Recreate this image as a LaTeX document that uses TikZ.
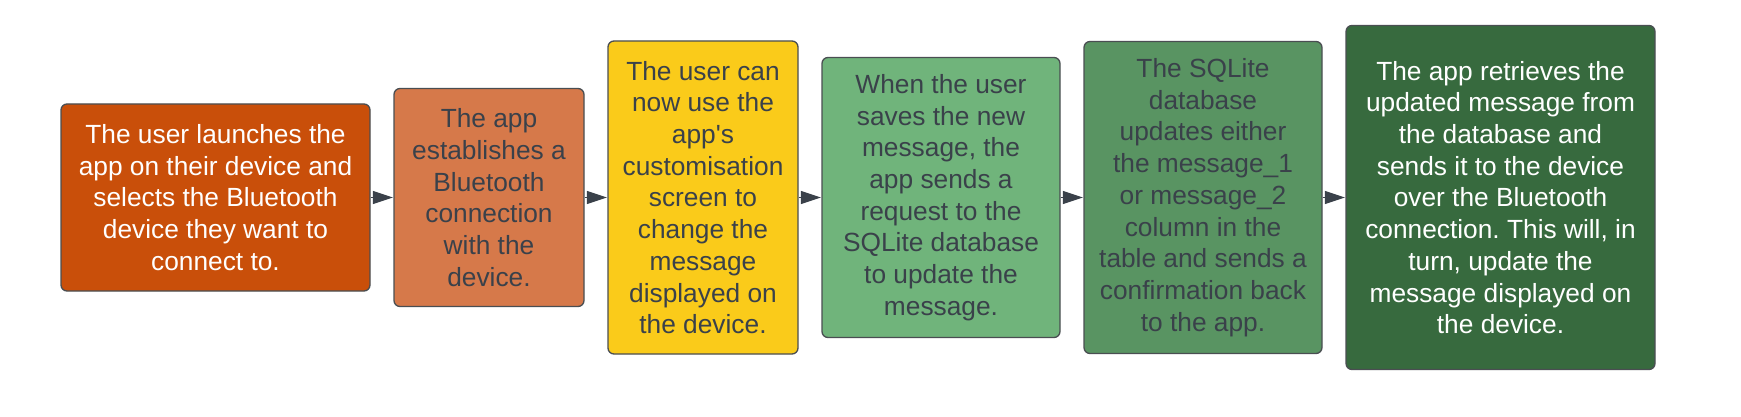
\documentclass[tikz,border=0pt]{standalone}
\usepackage{fontspec}
\setmainfont{Liberation Sans}[Ligatures=TeXOff]
\usetikzlibrary{arrows.meta}
\definecolor{cA}{HTML}{C94F0A}
\definecolor{cB}{HTML}{D6794A}
\definecolor{cC}{HTML}{FACB1A}
\definecolor{cD}{HTML}{70B47B}
\definecolor{cE}{HTML}{599462}
\definecolor{cF}{HTML}{376A3E}
\definecolor{txt}{HTML}{3A414A}
\definecolor{edge}{HTML}{4A4E52}
\frenchspacing
\tikzset{
  flowbox/.style={draw=edge, line width=1.3pt, rounded corners=6pt, align=center,
    inner sep=0pt, font=\fontsize{26.3}{31.7}\selectfont\frenchspacing, text=txt},
  flowarrow/.style={draw=txt, line width=1.5pt, -{Triangle[length=20pt,width=13pt]}, shorten >=0.5pt}
}
\begin{document}
\begin{tikzpicture}[x=1pt,y=-1pt]
\useasboundingbox (0,0) rectangle (1741,417);
\node[flowbox, fill=cA, text=white, minimum width=309pt, minimum height=187pt] (b1) at (215.5,197.5)
  {The user launches the\\app on their device and\\selects the Bluetooth\\device they want to\\connect to.};
\node[flowbox, fill=cB, minimum width=190pt, minimum height=218pt] (b2) at (489,197.5)
  {The app\\establishes a\\Bluetooth\\connection\\with the\\device.};
\node[flowbox, fill=cC, minimum width=190pt, minimum height=313pt] (b3) at (703,197.5)
  {The user can\\now use the\\app's\\customisation\\screen to\\change the\\message\\displayed on\\the device.};
\node[flowbox, fill=cD, minimum width=238pt, minimum height=280pt] (b4) at (941,197.5)
  {When the user\\saves the new\\message, the\\app sends a\\request to the\\SQLite database\\to update the\\message.};
\node[flowbox, fill=cE, minimum width=238pt, minimum height=312pt] (b5) at (1203,197.5)
  {The SQLite\\database\\updates either\\the message\_1\\or message\_2\\column in the\\table and sends a\\confirmation back\\to the app.};
\node[flowbox, fill=cF, text=white, minimum width=309pt, minimum height=344pt] (b6) at (1500.5,197.5)
  {The app retrieves the\\updated message from\\the database and\\sends it to the device\\over the Bluetooth\\connection. This will, in\\turn, update the\\message displayed on\\the device.};
\draw[flowarrow] (b1) -- (b2);
\draw[flowarrow] (b2) -- (b3);
\draw[flowarrow] (b3) -- (b4);
\draw[flowarrow] (b4) -- (b5);
\draw[flowarrow] (b5) -- (b6);
\end{tikzpicture}
\end{document}
